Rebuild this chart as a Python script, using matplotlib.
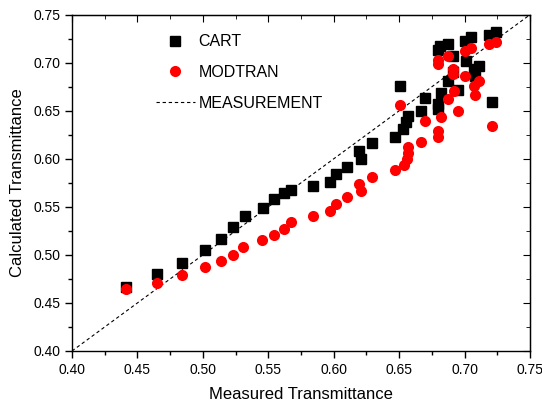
import matplotlib
matplotlib.use('Agg')
import matplotlib.pyplot as plt
from matplotlib.ticker import MultipleLocator

plt.rcParams['font.family'] = ['Liberation Sans', 'DejaVu Sans']

# measured vs calculated transmittance
cart_x = [0.441, 0.465, 0.484, 0.502, 0.514, 0.523, 0.532, 0.546, 0.554, 0.562,
          0.567, 0.584, 0.597, 0.602, 0.610, 0.619, 0.621, 0.629, 0.647, 0.651,
          0.653, 0.655, 0.657, 0.667, 0.670, 0.680, 0.680, 0.682, 0.680, 0.681,
          0.687, 0.687, 0.691, 0.691, 0.695, 0.700, 0.701, 0.705, 0.707, 0.708,
          0.711, 0.719, 0.721, 0.724]
cart_y = [0.467, 0.480, 0.492, 0.505, 0.517, 0.529, 0.540, 0.549, 0.558, 0.564,
          0.568, 0.572, 0.576, 0.584, 0.592, 0.608, 0.600, 0.616, 0.623, 0.676,
          0.631, 0.638, 0.645, 0.650, 0.663, 0.652, 0.657, 0.668, 0.713, 0.717,
          0.720, 0.681, 0.707, 0.690, 0.672, 0.723, 0.702, 0.727, 0.694, 0.686,
          0.697, 0.729, 0.659, 0.732]

modtran_x = [0.441, 0.465, 0.484, 0.502, 0.514, 0.523, 0.531, 0.545, 0.554, 0.562,
             0.567, 0.584, 0.597, 0.602, 0.610, 0.619, 0.621, 0.629, 0.647, 0.651,
             0.654, 0.656, 0.657, 0.657, 0.667, 0.670, 0.680, 0.680, 0.682, 0.680,
             0.680, 0.687, 0.687, 0.691, 0.691, 0.692, 0.695, 0.700, 0.700, 0.705,
             0.707, 0.708, 0.711, 0.719, 0.721, 0.724]
modtran_y = [0.465, 0.471, 0.479, 0.487, 0.494, 0.500, 0.508, 0.515, 0.521, 0.527,
             0.534, 0.540, 0.546, 0.553, 0.560, 0.574, 0.567, 0.581, 0.588, 0.656,
             0.594, 0.600, 0.606, 0.612, 0.617, 0.639, 0.623, 0.629, 0.644, 0.699,
             0.703, 0.707, 0.662, 0.694, 0.688, 0.671, 0.650, 0.712, 0.686, 0.715,
             0.676, 0.666, 0.681, 0.720, 0.634, 0.722]

line_ends = [0.40, 0.75]

fig = plt.figure(figsize=(5.42, 4.07), dpi=100)
ax = fig.add_axes([0.1328, 0.1376, 0.8451, 0.8263])

ax.plot(line_ends, line_ends, color='black', linestyle=(0, (3, 2.5)), linewidth=0.8,
        label='MEASUREMENT', zorder=1)
ax.plot(cart_x, cart_y, linestyle='none', marker='s', markersize=7, color='black',
        label='CART', zorder=2)
ax.plot(modtran_x, modtran_y, linestyle='none', marker='o', markersize=8, color='#ff0000',
        markeredgewidth=0, label='MODTRAN', zorder=3)

ax.set_xlim(0.40, 0.75)
ax.set_ylim(0.40, 0.75)
ax.xaxis.set_major_locator(MultipleLocator(0.05))
ax.xaxis.set_minor_locator(MultipleLocator(0.025))
ax.yaxis.set_major_locator(MultipleLocator(0.05))
ax.yaxis.set_minor_locator(MultipleLocator(0.025))
ax.xaxis.set_major_formatter(lambda v, p: f'{v:.2f}')
ax.yaxis.set_major_formatter(lambda v, p: f'{v:.2f}')
ax.tick_params(which='major', direction='out', length=5, width=1, labelsize=10)
ax.tick_params(which='minor', direction='out', length=3, width=1)
for s in ax.spines.values():
    s.set_linewidth(1)

# mirrored inward ticks on top and right
top = ax.secondary_xaxis('top')
top.xaxis.set_major_locator(MultipleLocator(0.05))
top.xaxis.set_minor_locator(MultipleLocator(0.025))
top.tick_params(which='major', direction='in', length=5, labeltop=False)
top.tick_params(which='minor', direction='in', length=3)
right = ax.secondary_yaxis('right')
right.yaxis.set_major_locator(MultipleLocator(0.05))
right.yaxis.set_minor_locator(MultipleLocator(0.025))
right.tick_params(which='major', direction='in', length=5, labelright=False)
right.tick_params(which='minor', direction='in', length=3)

ax.set_xlabel('Measured Transmittance', fontsize=12, labelpad=7)
ax.set_ylabel('Calculated Transmittance', fontsize=12, labelpad=6)

handles, labels = ax.get_legend_handles_labels()
order = [1, 2, 0]
ax.legend([handles[i] for i in order], [labels[i] for i in order],
          loc='upper left', bbox_to_anchor=(0.151, 0.985), frameon=False,
          fontsize=11.5, handlelength=2.5, handletextpad=0.2, labelspacing=1.0)

fig.savefig('out.png', dpi=100)
